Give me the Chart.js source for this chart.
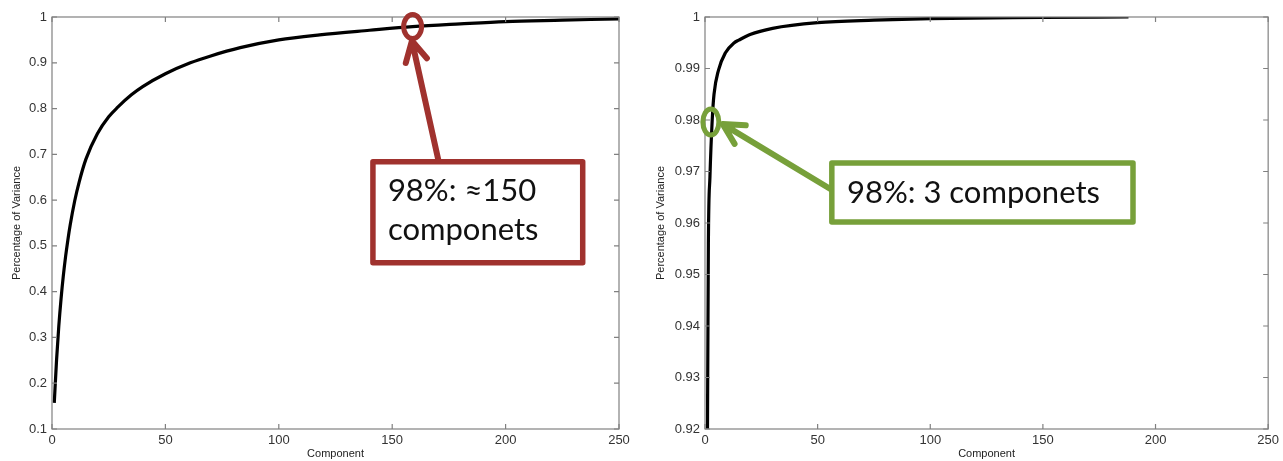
<!DOCTYPE html>
<html>
<head>
<meta charset="utf-8">
<script src="https://cdn.jsdelivr.net/npm/chart.js@4.4.0/dist/chart.umd.min.js"></script>
<style>
body{margin:0;background:#fff;}
#wrap{position:relative;width:1283px;height:461px;}
canvas{position:absolute;top:0;}
</style>
</head>
<body>
<div id="wrap">
<canvas id="chartLeft" width="640" height="461" style="left:0"></canvas>
<canvas id="chartRight" width="643" height="461" style="left:640px"></canvas>
</div>
<script>
// left plot - cumulative variance per component
var compLeft = [1,2,3,4,5,6,7,8,10,12,15,20,25,29,35,40,50,61,70,83,100,118,140,159,180,200,225,250];
var varLeft = [0.157,0.25,0.325,0.385,0.435,0.477,0.513,0.545,0.598,0.64,0.69,0.745,0.782,0.803,0.83,0.848,0.876,0.9,0.915,0.933,0.95,0.961,0.971,0.979,0.985,0.99,0.993,0.996];

// right plot
var compRight = [1,1.5,2.2,3.2,4,6,9,13,15,20,30,50,75,100,150,188];
var varRight = [0.91,0.956,0.969,0.98,0.985,0.9897,0.993,0.995,0.9955,0.9966,0.9978,0.9989,0.9994,0.9997,0.9999,1.0];

var xTitle = 'Component';
var yTitle = 'Percentage of Variance';
var noteLeft = ['98%: \u2248150', 'componets'];
var noteRight = ['98%: 3 componets'];

function toPoints(xs, ys){
  var out = [];
  xs.forEach(function(x, i){ out.push({x: x, y: ys[i]}); });
  return out;
}

// box round the axes with inward ticks (matlab look)
var boxPlugin = {
  id: 'mbox',
  afterDatasetsDraw: function(chart){
    var ctx = chart.ctx, a = chart.chartArea;
    var xs = chart.scales.x, ys = chart.scales.y;
    ctx.save();
    ctx.strokeStyle = '#808080';
    ctx.lineWidth = 1.2;
    ctx.strokeRect(a.left, a.top, a.right - a.left, a.bottom - a.top);
    ctx.beginPath();
    xs.ticks.forEach(function(t){
      var px = xs.getPixelForValue(t.value);
      ctx.moveTo(px, a.bottom); ctx.lineTo(px, a.bottom - 5);
      ctx.moveTo(px, a.top); ctx.lineTo(px, a.top + 5);
    });
    ys.ticks.forEach(function(t){
      var py = ys.getPixelForValue(t.value);
      ctx.moveTo(a.left, py); ctx.lineTo(a.left + 5, py);
      ctx.moveTo(a.right, py); ctx.lineTo(a.right - 5, py);
    });
    ctx.stroke();
    ctx.restore();
  }
};

function arrow(ctx, x0, y0, x1, y1){
  var ang = Math.atan2(y0 - y1, x0 - x1);
  var len = 23, spread = 28 * Math.PI / 180;
  ctx.beginPath();
  ctx.moveTo(x0, y0); ctx.lineTo(x1, y1);
  ctx.moveTo(x1 + len * Math.cos(ang - spread), y1 + len * Math.sin(ang - spread));
  ctx.lineTo(x1, y1);
  ctx.lineTo(x1 + len * Math.cos(ang + spread), y1 + len * Math.sin(ang + spread));
  ctx.stroke();
}

// callout: circle, arrow and text box, placed in data units
var notePlugin = {
  id: 'note',
  afterDraw: function(chart, args, o){
    if (!o || !o.lines) return;
    var ctx = chart.ctx, xs = chart.scales.x, ys = chart.scales.y;
    var X = function(v){ return xs.getPixelForValue(v); };
    var Y = function(v){ return ys.getPixelForValue(v); };
    ctx.save();
    ctx.strokeStyle = o.color;
    ctx.lineCap = 'round';
    ctx.lineJoin = 'round';
    ctx.lineWidth = 5;
    ctx.beginPath();
    ctx.ellipse(X(o.circle[0]), Y(o.circle[1]), o.rx, o.ry, 0, 0, Math.PI * 2);
    ctx.stroke();
    ctx.lineWidth = 6;
    arrow(ctx, X(o.tail[0]), Y(o.tail[1]), X(o.tip[0]), Y(o.tip[1]));
    var bx = X(o.box[0]), by = Y(o.box[1]);
    var bw = X(o.box[2]) - bx, bh = Y(o.box[3]) - by;
    ctx.fillStyle = '#fff';
    ctx.fillRect(bx, by, bw, bh);
    ctx.lineWidth = 5.5;
    ctx.strokeRect(bx, by, bw, bh);
    ctx.fillStyle = '#111';
    ctx.font = '31px Lato';
    o.lines.forEach(function(s, i){
      ctx.fillText(s, X(o.text[0]), Y(o.text[1]) + i * 38.5);
    });
    ctx.restore();
  }
};

function makeChart(id, pts, ymin, ymax, step, yw, padRight, titlePad, note){
  return new Chart(document.getElementById(id), {
    type: 'line',
    data: {
      datasets: [{
        data: pts,
        borderColor: '#000',
        borderWidth: 3.2,
        pointRadius: 0,
        cubicInterpolationMode: 'monotone',
        fill: false
      }]
    },
    options: {
      responsive: false,
      animation: false,
      layout: {padding: {top: 17, right: padRight, left: 0, bottom: 0}},
      plugins: {legend: {display: false}, tooltip: {enabled: false}, note: note},
      scales: {
        x: {
          type: 'linear', min: 0, max: 250,
          grid: {display: false, drawTicks: false},
          border: {display: false},
          ticks: {stepSize: 50, padding: 4, color: '#333', font: {family: 'Liberation Sans', size: 13}},
          title: {display: true, text: xTitle, color: '#222', padding: {top: 0, bottom: 0}, font: {family: 'Liberation Sans', size: 11}},
          afterFit: function(s){ s.height = 32; }
        },
        y: {
          min: ymin, max: ymax,
          grid: {display: false, drawTicks: false},
          border: {display: false},
          ticks: {stepSize: step, padding: 5, color: '#333', font: {family: 'Liberation Sans', size: 13},
            callback: function(v){ return String(+v.toFixed(3)); }},
          title: {display: true, text: yTitle, color: '#222', padding: {top: titlePad, bottom: 0}, font: {family: 'Liberation Sans', size: 11}},
          afterFit: function(s){ s.width = yw; }
        }
      }
    },
    plugins: [boxPlugin, notePlugin]
  });
}

makeChart('chartLeft', toPoints(compLeft, varLeft), 0.1, 1, 0.1, 52, 21, 10, {
  color: '#a0322e', circle: [159, 0.979], rx: 9, ry: 12,
  tail: [170.5, 0.684], tip: [158.7, 0.948],
  box: [141.5, 0.684, 234, 0.463], text: [148.1, 0.597], lines: noteLeft
});

makeChart('chartRight', toPoints(compRight, varRight), 0.92, 1, 0.01, 65, 11, 14, {
  color: '#77a03a', circle: [2.6, 0.9796], rx: 8, ry: 13,
  tail: [56.4, 0.9664], tip: [7.9, 0.9792],
  box: [56.3, 0.97165, 190, 0.9602], text: [63, 0.9639], lines: noteRight
});
</script>
</body>
</html>
